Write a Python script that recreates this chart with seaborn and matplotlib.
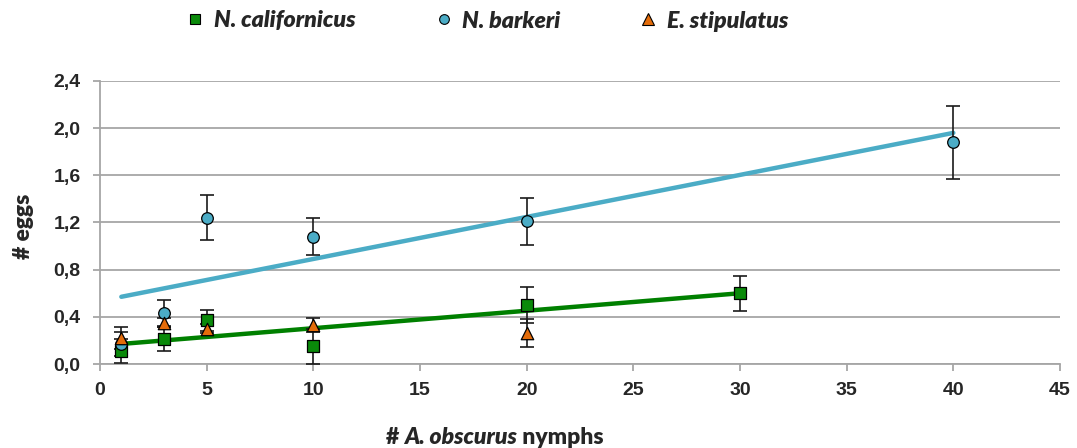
import numpy as np
import pandas as pd
import matplotlib
matplotlib.use("Agg")
import matplotlib.pyplot as plt
import seaborn as sns
from matplotlib.lines import Line2D

# ---- data ----
cal_x = [1, 3, 5, 10, 20, 30]
cal_y = [0.11, 0.21, 0.37, 0.15, 0.50, 0.60]
cal_err = [0.10, 0.10, 0.09, 0.15, 0.155, 0.15]

bar_x = [1, 3, 5, 10, 20, 40]
bar_y = [0.17, 0.43, 1.24, 1.08, 1.21, 1.88]
bar_err = [0.10, 0.11, 0.19, 0.155, 0.20, 0.31]

sti_x = [1, 3, 5, 10, 20]
sti_y = [0.22, 0.35, 0.30, 0.33, 0.26]
sti_err = [0.09, 0.04, 0.04, 0.06, 0.12]

cal_trend_x = [1, 30]
cal_trend_y = [0.17, 0.60]
bar_trend_x = [1, 40]
bar_trend_y = [0.57, 1.96]

series_names = ["N. californicus", "N. barkeri", "E. stipulatus"]
x_ticks = [0, 5, 10, 15, 20, 25, 30, 35, 40, 45]
y_ticks = [0.0, 0.4, 0.8, 1.2, 1.6, 2.0, 2.4]
y_tick_labels = ["0,0", "0,4", "0,8", "1,2", "1,6", "2,0", "2,4"]
xlabel_parts = ["# ", "A. obscurus", " nymphs"]

green = "#0A8A0A"
green_line = "#008000"
blue = "#4BACC6"
orange = "#E46C0A"

sns.set_theme(style="white")
plt.rcParams['font.family'] = ['Liberation Sans', 'DejaVu Sans']

fig = plt.figure(figsize=(10.77, 4.48), dpi=100)
ax = fig.add_axes([100/1077, 1-364/448, 960/1077, (364-81)/448])

# trend lines
sns.lineplot(x=bar_trend_x, y=bar_trend_y, ax=ax, color=blue, lw=3.2, zorder=2)
sns.lineplot(x=cal_trend_x, y=cal_trend_y, ax=ax, color=green_line, lw=3.2, zorder=2)

# error bars
for xs, ys, es in [(cal_x, cal_y, cal_err), (bar_x, bar_y, bar_err), (sti_x, sti_y, sti_err)]:
    ax.errorbar(xs, ys, yerr=es, fmt='none', ecolor='#1a1a1a', elinewidth=1.2,
                capsize=5, capthick=1.2, zorder=3)

# markers
sns.scatterplot(x=cal_x, y=cal_y, ax=ax, marker='s', s=70, color=green,
                edgecolor='black', linewidth=0.9, zorder=4)
sns.scatterplot(x=bar_x, y=bar_y, ax=ax, marker='o', s=70, color=blue,
                edgecolor='black', linewidth=0.9, zorder=4)
sns.scatterplot(x=sti_x, y=sti_y, ax=ax, marker='^', s=80, color=orange,
                edgecolor='black', linewidth=0.9, zorder=4)

ax.set_xlim(0, 45)
ax.set_ylim(0, 2.4)
ax.set_xticks(x_ticks)
ax.set_yticks(y_ticks)
ax.set_yticklabels(y_tick_labels)
ax.grid(axis='y', color='#a6a6a6', lw=1.3)
ax.set_axisbelow(True)
for s in ['top', 'right']:
    ax.spines[s].set_visible(False)
for s in ['left', 'bottom']:
    ax.spines[s].set_color('#a6a6a6')
    ax.spines[s].set_linewidth(1.3)
ax.tick_params(axis='both', which='both', direction='out', length=5, width=1.3,
               color='#a6a6a6', labelsize=14)
ax.tick_params(axis='x', bottom=True, pad=8)
ax.tick_params(axis='y', left=True, pad=9)
for lab in ax.get_xticklabels() + ax.get_yticklabels():
    lab.set_fontweight('bold')

ax.set_xlabel("")
ax.set_ylabel("")

lab_font = dict(family='Lato', weight='heavy', size=16.5)
fig.text(23/1077, 1-226/448, "# eggs", ha='center', va='center', rotation=90, **lab_font)

# x label assembled from normal / italic pieces
fig.canvas.draw()
renderer = fig.canvas.get_renderer()
styles = ['normal', 'italic', 'normal']
pieces = []
for txt, st in zip(xlabel_parts, styles):
    t = fig.text(0, 1-437/448, txt, ha='left', va='center', style=st, **lab_font)
    pieces.append(t)
widths = [p.get_window_extent(renderer).width for p in pieces]
total = sum(widths)
x0 = 495 - total/2
for p, w in zip(pieces, widths):
    p.set_x(x0/1077)
    x0 += w

handles = [
    Line2D([], [], ls='none', marker='s', ms=7, mfc=green, mec='black', mew=0.8),
    Line2D([], [], ls='none', marker='o', ms=7, mfc=blue, mec='black', mew=0.8),
    Line2D([], [], ls='none', marker='^', ms=8, mfc=orange, mec='black', mew=0.8),
]
leg = fig.legend(handles, series_names, loc='center', bbox_to_anchor=(486/1077, 1-21/448),
                 ncol=3, frameon=False, handlelength=1.0, handletextpad=0.3, columnspacing=3.3,
                 prop={'family': 'Lato', 'weight': 'heavy', 'style': 'italic', 'size': 16.7})

fig.savefig("out.png", dpi=100)
